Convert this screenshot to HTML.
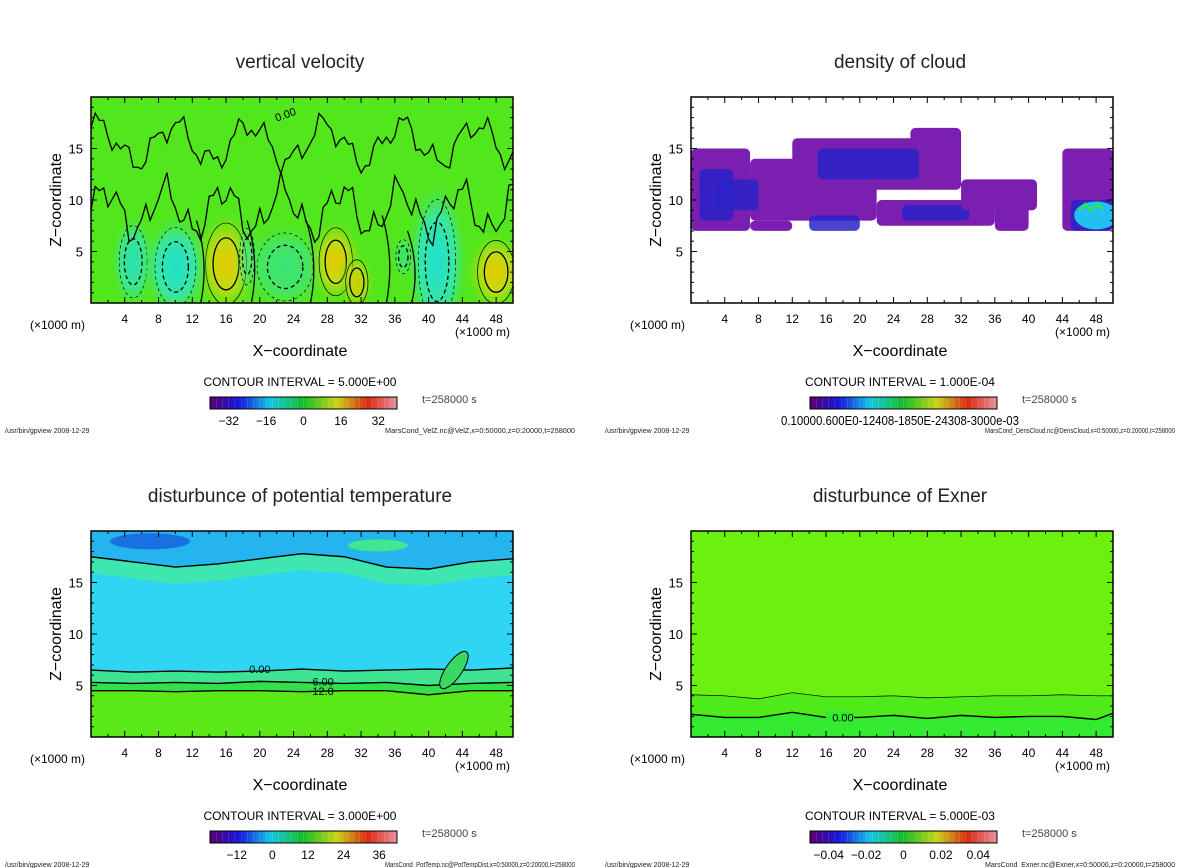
<!DOCTYPE html>
<html><head><meta charset="utf-8"><style>
html,body{margin:0;padding:0;background:#fff;}
svg{display:block;font-family:"Liberation Sans",sans-serif;}
</style></head><body>
<svg id="fig" width="1200" height="868" viewBox="0 0 1200 868" xmlns="http://www.w3.org/2000/svg">
<defs>
<radialGradient id="gY"><stop offset="0" stop-color="#e8c800"/><stop offset="0.45" stop-color="#c0dc10"/><stop offset="1" stop-color="#52e61c" stop-opacity="0"/></radialGradient>
<radialGradient id="gC"><stop offset="0" stop-color="#20e0d0"/><stop offset="0.55" stop-color="#38e6a0"/><stop offset="1" stop-color="#52e61c" stop-opacity="0"/></radialGradient>
</defs>
</svg>
<script>
const xTicks=[4,8,12,16,20,24,28,32,36,40,44,48];
const zTicks=[5,10,15];
const titles=["vertical velocity","density of cloud","disturbunce of potential temperature","disturbunce of Exner"];
const intervals=["CONTOUR INTERVAL = 5.000E+00","CONTOUR INTERVAL = 1.000E-04","CONTOUR INTERVAL = 3.000E+00","CONTOUR INTERVAL = 5.000E-03"];
const cbLabels=[["-32","-16","0","16","32"],["0.10000.600E0-12408-1850E-24308-3000e-03"],["-12","0","12","24","36"],["-0.04","-0.02","0","0.02","0.04"]];
const cbValues=[[-32,-16,0,16,32],[0],[-12,0,12,24,36],[-0.04,-0.02,0,0.02,0.04]];
const cbRange=[[-40,40],[0,1],[-21,42],[-0.05,0.05]];
const files=["MarsCond_VelZ.nc@VelZ,x=0:50000,z=0:20000,t=258000","MarsCond_DensCloud.nc@DensCloud,x=0:50000,z=0:20000,t=258000","MarsCond_PotTemp.nc@PotTempDist,x=0:50000,z=0:20000,t=258000","MarsCond_Exner.nc@Exner,x=0:50000,z=0:20000,t=258000"];
const wX=[16,5,10,23,29,31.5,41,48,18.5,37];
const wZ=[3.8,4,3.5,3.5,4,2,4,3,4.5,4.5];
const wRX=[2.2,1.5,2.2,3,1.8,1.2,2,2,0.8,0.8];
const wRZ=[3.6,3.2,3.5,3,3,2,5.5,2.8,2.5,1.5];
const wV=[25,-10,-12,-6,12,10,-20,12,-5,-5];
const cX0=[0,1,7,12,15,26,22,25,32,36,44,45,7,14,3];
const cX1=[7,5,22,32,27,32,36,33,41,40,50,50,12,20,8];
const cZ0=[7,8,8,11,12,15,7.5,8,9,7,7,7,7,7,9];
const cZ1=[15,13,14,16,15,17,10,9.5,12,10,15,10,8,8.5,12];
const cL=[0,1,0,0,1,0,0,1,0,0,0,1,0,1,1];
const ptX=[0,5,10,15,20,25,30,35,40,45,50];
const ptZ0=[6.5,6.3,6.4,6.3,6.4,6.6,6.4,6.5,6.6,6.5,6.7];
const ptZ6=[5.3,5.2,5.3,5.2,5.4,5.3,5.2,5.3,5.0,5.2,5.3];
const ptZ12=[4.5,4.5,4.4,4.5,4.5,4.4,4.5,4.5,4.1,4.5,4.5];
const ptTop=[17.5,17,16.5,16.8,17.3,17.8,17.5,16.5,16.3,17,17.3];
const exX=[0,4,8,12,16,20,24,28,32,36,40,44,48,50];
const exZ0=[2.2,1.9,1.9,2.4,1.9,1.9,2.1,1.8,2.1,1.9,2.0,2.0,1.7,2.3];
const exZ1=[4.1,4.0,3.7,4.3,3.9,3.9,4.0,3.8,3.9,4.0,4.0,4.1,4.0,4.0];

const NS="http://www.w3.org/2000/svg";
const svg=document.getElementById('fig');
function el(tag,attrs,parent,text){const e=document.createElementNS(NS,tag);for(const k in attrs)e.setAttribute(k,attrs[k]);if(text!==undefined)e.textContent=text;(parent||svg).appendChild(e);return e;}
function spectrum(t){const stops=[[0,[90,0,120]],[0.15,[20,20,220]],[0.32,[20,200,230]],[0.5,[20,190,40]],[0.68,[200,210,20]],[0.85,[220,40,20]],[1,[230,140,150]]];
 for(let i=1;i<stops.length;i++){if(t<=stops[i][0]){const a=stops[i-1],b=stops[i],f=(t-a[0])/(b[0]-a[0]);return 'rgb('+a[1].map((v,j)=>Math.round(v+(b[1][j]-v)*f)).join(',')+')';}}return 'rgb(230,140,150)';}

const offs=[[0,0],[600,0],[0,434],[600,434]];
offs.forEach((o,p)=>{
 const ox=o[0],oy=o[1];
 const L=ox+91,R=ox+513,T=oy+97,B=oy+303;
 const sx=x=>L+(x/50)*(R-L), sz=z=>B-(z/20)*(B-T);
 const g=el('g',{});
 
 
 const t=el('text',{x:ox+300,y:oy+68,'text-anchor':'middle','font-size':19,fill:'#222'},g,titles[p]);
 
 const pg=el('g',{},g);
 
 el('clipPath',{id:'c'+p},pg);
 el('rect',{x:L,y:T,width:R-L,height:B-T},document.getElementById('c'+p));
 const cg=el('g',{'clip-path':'url(#c'+p+')'},pg);
 if(p===0){
  el('rect',{x:L,y:T,width:R-L,height:B-T,fill:'#52e61c'},cg);
  wX.forEach((x,i)=>{const c=el('ellipse',{cx:sx(x),cy:sz(wZ[i]),rx:(wRX[i]/50)*(R-L)*1.9,ry:(wRZ[i]/20)*(B-T)*1.5,fill:wV[i]>0?'url(#gY)':'url(#gC)',opacity:Math.min(1,Math.abs(wV[i])/12)},cg);
   
   el('ellipse',{cx:sx(x),cy:sz(wZ[i]),rx:(wRX[i]/50)*(R-L)*0.7,ry:(wRZ[i]/20)*(B-T)*0.7,fill:'none',stroke:'#000','stroke-width':1.3,'stroke-dasharray':wV[i]<0?'4,3':'none'},cg);
   el('ellipse',{cx:sx(x),cy:sz(wZ[i]),rx:(wRX[i]/50)*(R-L)*1.1,ry:(wRZ[i]/20)*(B-T)*1.1,fill:'none',stroke:'#000','stroke-width':0.7,'stroke-dasharray':wV[i]<0?'3,3':'none'},cg);});
  let d='';for(let i=0;i<=100;i++){const x=i/2;const z=9+2*Math.sin(x*0.9)+1.2*Math.sin(x*2.3)+0.6*Math.sin(x*5.1);d+=(i?'L':'M')+sx(x).toFixed(1)+','+sz(z).toFixed(1);}
  el('path',{d:d,fill:'none',stroke:'#000','stroke-width':1.3},cg);
  d='';for(let i=0;i<=100;i++){const x=i/2;const z=15.5+1.8*Math.sin(x*0.7+1)+1*Math.sin(x*1.9)+0.5*Math.sin(x*4.7);d+=(i?'L':'M')+sx(x).toFixed(1)+','+sz(z).toFixed(1);}
  el('path',{d:d,fill:'none',stroke:'#000','stroke-width':1.3},cg);
  [[13,0,8],[19,0,8],[26,0,8],[35,0,8.5],[38,0,7]].forEach(a=>el('path',{d:'M'+sx(a[0])+','+sz(a[1])+'Q'+sx(a[0]+1)+','+sz(a[2]/2)+' '+sx(a[0]-0.5)+','+sz(a[2]),fill:'none',stroke:'#000','stroke-width':1.3},cg));
  el('text',{x:sx(22),y:sz(17.6),'font-size':11,transform:'rotate(-20 '+sx(22)+' '+sz(17.6)+')'},cg,'0.00');
 } else if(p===1){
  el('rect',{x:L,y:T,width:R-L,height:B-T,fill:'#fff'},cg);
  cX0.forEach((x0,i)=>{const r=el('rect',{x:sx(x0),y:sz(cZ1[i]),width:sx(cX1[i])-sx(x0),height:sz(cZ0[i])-sz(cZ1[i]),rx:5,fill:cL[i]?'#2a22c8':'#7a1fb0',opacity:cL[i]?0.85:1},cg);
   });
  el('ellipse',{cx:sx(48),cy:sz(8.5),rx:22,ry:14,fill:'#22c0f0'},cg);
  el('path',{d:'M'+sx(46)+','+sz(9)+'l6,-6 l6,6 l6,-7 l6,6',fill:'none',stroke:'#30e060','stroke-width':3},cg);
 } else if(p===2){
  el('rect',{x:L,y:T,width:R-L,height:B-T,fill:'#2fd6f4'},cg);
  const band=(arrTop,arrBot,fill)=>{let d='';ptX.forEach((x,i)=>d+=(i?'L':'M')+sx(x)+','+sz(arrTop[i]));for(let i=ptX.length-1;i>=0;i--)d+='L'+sx(ptX[i])+','+sz(arrBot[i]);el('path',{d:d+'Z',fill:fill},cg);};
  band(ptTop,ptTop.map(v=>v-1.6),'#40e6b0');
  band(ptTop.map(()=>21),ptTop,'#24b4ee');
  band(ptZ0,ptZ6,'#3ee490');
  band(ptZ6,ptZ12,'#34e04a');
  band(ptZ12,ptZ12.map(()=>0),'#5ae818');
  el('ellipse',{cx:sx(7),cy:sz(19),rx:40,ry:8,fill:'#1a70e0'},cg);
  el('ellipse',{cx:sx(34),cy:sz(18.6),rx:30,ry:6,fill:'#40e690'},cg);
  [ptZ0,ptZ6,ptZ12,ptTop].forEach((arr,k)=>{let d='';ptX.forEach((x,i)=>d+=(i?'L':'M')+sx(x)+','+sz(arr[i]));const pth=el('path',{d:d,fill:'none',stroke:'#000','stroke-width':1.4},cg);
   });
  el('text',{x:sx(20),y:sz(6.2),'font-size':11,'text-anchor':'middle'},cg,'0.00');
  el('text',{x:sx(27.5),y:sz(5.0),'font-size':11,'text-anchor':'middle'},cg,'6.00');
  el('text',{x:sx(27.5),y:sz(4.1),'font-size':11,'text-anchor':'middle'},cg,'12.0');
  el('ellipse',{cx:sx(43),cy:sz(6.5),rx:8,ry:22,fill:'#3ad860',stroke:'#000',transform:'rotate(35 '+sx(43)+' '+sz(6.5)+')'},cg);
 } else {
  el('rect',{x:L,y:T,width:R-L,height:B-T,fill:'#6cf010'},cg);
  const band=(arr,fill)=>{let d='';exX.forEach((x,i)=>d+=(i?'L':'M')+sx(x)+','+sz(arr[i]));d+='L'+sx(50)+','+sz(0)+'L'+sx(0)+','+sz(0)+'Z';el('path',{d:d,fill:fill},cg);};
  band(exZ1,'#4eea1a');band(exZ0,'#32ea30');
  [exZ0,exZ1].forEach((arr,k)=>{let d='';exX.forEach((x,i)=>d+=(i?'L':'M')+sx(x)+','+sz(arr[i]));const pth=el('path',{d:d,fill:'none',stroke:'#000','stroke-width':k?0.7:1.4},cg);
   });
  el('rect',{x:sx(16),y:sz(2.5),width:28,height:10,fill:'#32ea30'},cg);
  el('text',{x:sx(18),y:sz(1.5),'font-size':11,'text-anchor':'middle'},cg,'0.00');
 }
 el('rect',{x:L,y:T,width:R-L,height:B-T,fill:'none',stroke:'#000','stroke-width':1.5},pg);
 for(let x=2;x<50;x+=2){const big=x%4===0;el('line',{x1:sx(x),x2:sx(x),y1:B,y2:B-(big?6:3),stroke:'#000'},pg);el('line',{x1:sx(x),x2:sx(x),y1:T,y2:T+(big?6:3),stroke:'#000'},pg);}
 for(let z=1;z<20;z++){const big=z%5===0;el('line',{x1:L,x2:L+(big?6:3),y1:sz(z),y2:sz(z),stroke:'#000'},pg);el('line',{x1:R,x2:R-(big?6:3),y1:sz(z),y2:sz(z),stroke:'#000'},pg);}
 const xa=el('g',{},g);
 xTicks.forEach(x=>el('text',{x:sx(x),y:B+20,'text-anchor':'middle','font-size':12},xa,String(x)));
 el('text',{x:ox+30,y:B+26,'font-size':12},xa,'(\u00d71000 m)');
 el('text',{x:ox+455,y:B+33,'font-size':12},xa,'(\u00d71000 m)');
 const xt=el('text',{x:ox+300,y:B+53,'text-anchor':'middle','font-size':16},g,'X\u2212coordinate');
 
 const za=el('g',{},g);
 zTicks.forEach(z=>el('text',{x:L-8,y:sz(z)+5,'text-anchor':'end','font-size':13},za,String(z)));
 const zt=el('text',{x:ox+61,y:(T+B)/2,'text-anchor':'middle','font-size':16,transform:'rotate(-90 '+(ox+61)+' '+((T+B)/2)+')'},g,'Z\u2212coordinate');
 
 const ci=el('text',{x:ox+300,y:oy+386,'text-anchor':'middle','font-size':12},g,intervals[p]);
 
 const cb=el('g',{},g);
 const cx0=ox+210,cx1=ox+397,n=60;
 for(let i=0;i<n;i++){el('rect',{x:cx0+i*(cx1-cx0)/n,y:oy+397,width:(cx1-cx0)/n+0.3,height:12,fill:spectrum(i/(n-1)),stroke:i%2?'none':'rgba(255,255,255,0.25)','stroke-width':0.5},cb);}
 el('rect',{x:cx0,y:oy+397,width:cx1-cx0,height:12,fill:'none',stroke:'#000'},cb);
 const rg=cbRange[p];
 if(p===1){el('text',{x:ox+300,y:oy+425,'text-anchor':'middle','font-size':13,'textLength':238,'lengthAdjust':'spacingAndGlyphs'},cb,cbLabels[1][0]);}
 else cbValues[p].forEach((v,i)=>el('text',{x:cx0+(v-rg[0])/(rg[1]-rg[0])*(cx1-cx0),y:oy+425,'text-anchor':'middle','font-size':12},cb,cbLabels[p][i].replace('-','\u2212')));
 el('text',{x:ox+422,y:oy+403,'font-size':11,fill:'#444'},g,'t=258000 s');
 el('text',{x:ox+5,y:oy+433,'font-size':7,fill:'#222'},g,'/usr/bin/gpview   2008-12-29');
 el('text',{x:ox+575,y:oy+433,'font-size':7,'text-anchor':'end',fill:'#222','textLength':190,'lengthAdjust':'spacingAndGlyphs'},g,files[p]);
});
</script>
</body></html>
